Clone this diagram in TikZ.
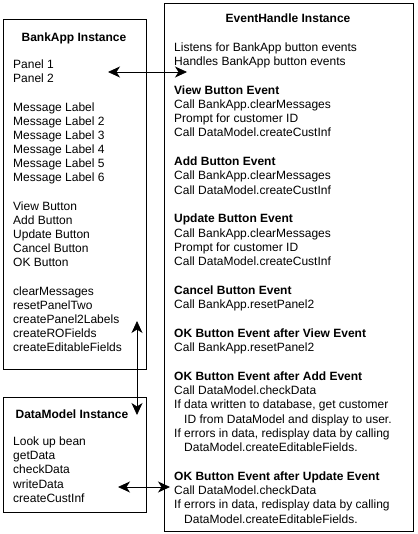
\documentclass[tikz,border=0pt]{standalone}
\usepackage{fontspec}
\setmainfont{Liberation Sans}
\usetikzlibrary{arrows.meta}
\begin{document}
\begin{tikzpicture}[x=1pt,y=-1pt,
  box/.style={draw,line width=0.8pt,inner sep=0pt},
  ttl/.style={font=\fontsize{12}{14.3}\selectfont\bfseries,inner sep=0pt,anchor=base},
  body/.style={font=\fontsize{12}{14.3}\selectfont,inner sep=0pt,align=left,anchor=north west},
  tight/.style={font=\fontsize{12}{14.15}\selectfont},
  link/.style={line width=0.8pt,{Stealth[length=12pt,width=11pt,inset=3.5pt]}-{Stealth[length=12pt,width=11pt,inset=3.5pt]}}]
\useasboundingbox (0,0) rectangle (417,534);
\node[box,minimum width=143pt,minimum height=350pt,anchor=north west] (bank) at (3,19) {};
\node[box,minimum width=249pt,minimum height=528pt,anchor=north west] (ev) at (164,3) {};
\node[box,minimum width=143pt,minimum height=115pt,anchor=north west] (dm) at (3,397) {};
\node[ttl] (bankt) at (74,42) {BankApp Instance};
\node[body,tight] (bankb) at (13,59.8) {Panel 1\\Panel 2\\[14.15pt]Message Label\\Message Label 2\\Message Label 3\\Message Label 4\\Message Label 5\\Message Label 6\\[14.15pt]View Button\\Add Button\\Update Button\\Cancel Button\\OK Button\\[14.15pt]clearMessages\\resetPanelTwo\\createPanel2Labels\\createROFields\\createEditableFields};
\node[ttl] (evt) at (288,23) {EventHandle Instance};
\node[body] (evb) at (174,42.3) {Listens for BankApp button events\\Handles BankApp button events\\[14.3pt]
\textbf{View Button Event}\\Call BankApp.clearMessages\\Prompt for customer ID\\Call DataModel.createCustInf\\[14.3pt]
\textbf{Add Button Event}\\Call BankApp.clearMessages\\Call DataModel.createCustInf\\[14.3pt]
\textbf{Update Button Event}\\Call BankApp.clearMessages\\Prompt for customer ID\\Call DataModel.createCustInf\\[14.3pt]
\textbf{Cancel Button Event}\\Call BankApp.resetPanel2\\[14.3pt]
\textbf{OK Button Event after View Event}\\Call BankApp.resetPanel2\\[14.3pt]
\textbf{OK Button Event after Add Event}\\Call DataModel.checkData\\If data written to database, get customer\\\hspace*{10pt}ID from DataModel and display to user.\\If errors in data, redisplay data by calling\\\hspace*{10pt}DataModel.createEditableFields.\\[14.3pt]
\textbf{OK Button Event after Update Event}\\Call DataModel.checkData\\If errors in data, redisplay data by calling\\\hspace*{10pt}DataModel.createEditableFields.};
\node[ttl] (dmt) at (72,418) {DataModel Instance};
\node[body] (dmb) at (13,436.3) {Look up bean\\getData\\checkData\\writeData\\createCustInf};
\coordinate (a1) at (108,72);
\coordinate (a2) at (187,72);
\coordinate (b1) at (137,321);
\coordinate (b2) at (137,415);
\coordinate (c1) at (118,487);
\coordinate (c2) at (170,487);
\draw[link] (a1) -- (a2);
\draw[link] (b1) -- (b2);
\draw[link] (c1) -- (c2);
\end{tikzpicture}
\end{document}
